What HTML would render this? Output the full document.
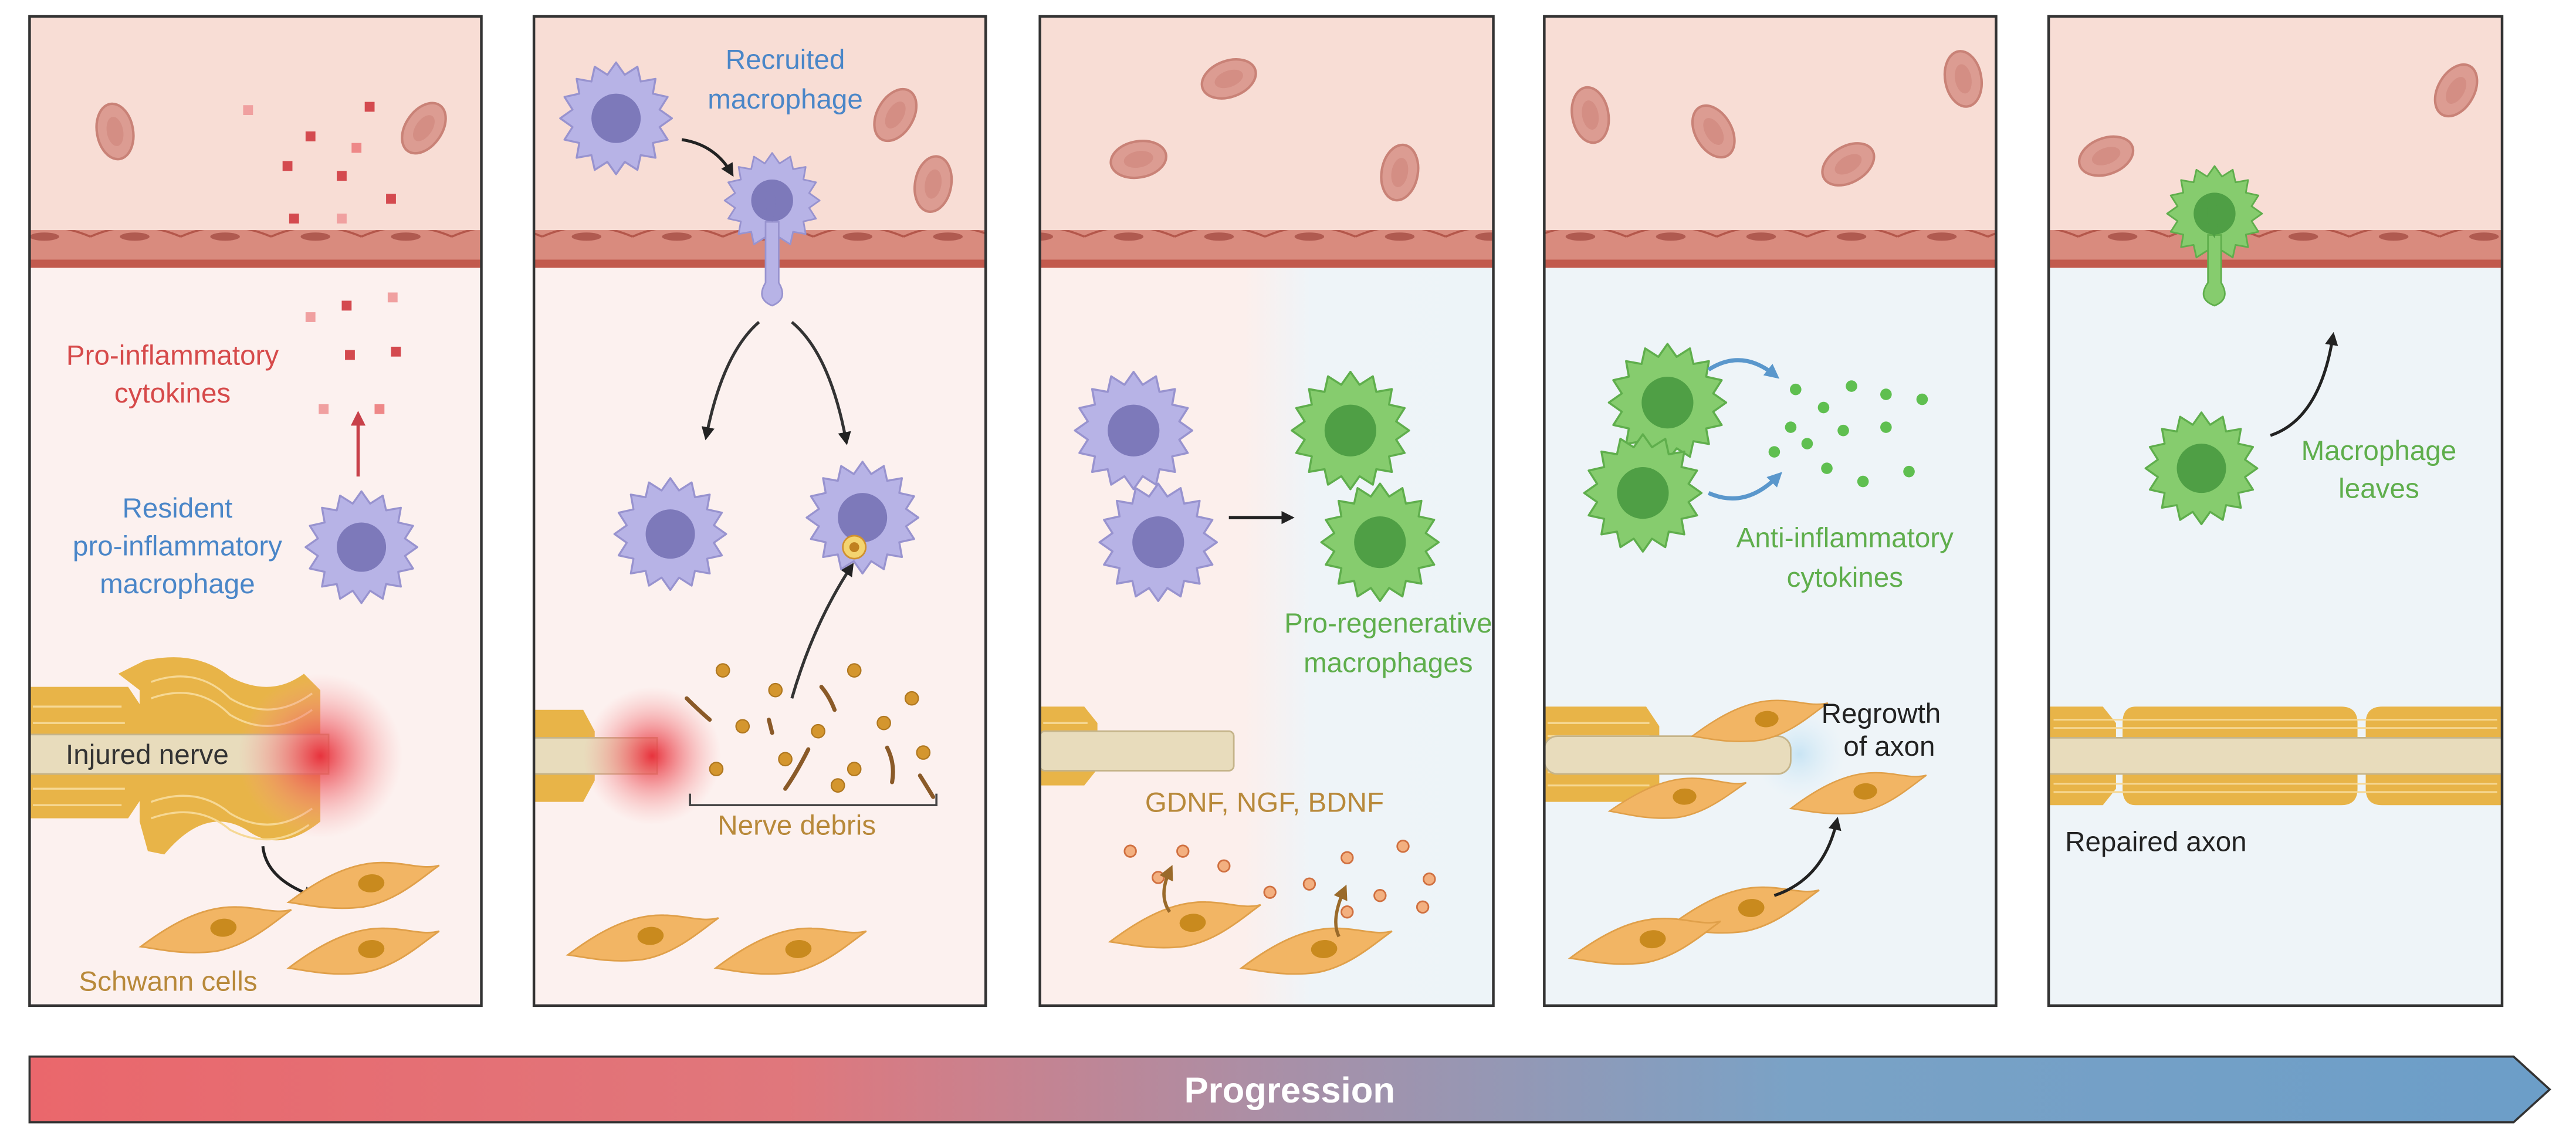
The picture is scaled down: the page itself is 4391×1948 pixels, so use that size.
<!DOCTYPE html>
<html><head><meta charset="utf-8"><style>
html,body{margin:0;padding:0;background:#fff}
svg{display:block}
text{font-family:"Liberation Sans",sans-serif}
</style></head><body>
<svg width="4391" height="1948" viewBox="0 0 1568 695.6" preserveAspectRatio="none" xmlns="http://www.w3.org/2000/svg">
<defs>
<symbol id="pm" overflow="visible"><polygon points="34,0 26.5,5.3 31.4,13 22.4,15 24,24 15,22.4 13,31.4 5.3,26.5 0,34 -5.3,26.5 -13,31.4 -15,22.4 -24,24 -22.4,15 -31.4,13 -26.5,5.3 -34,0 -26.5,-5.3 -31.4,-13 -22.4,-15 -24,-24 -15,-22.4 -13,-31.4 -5.3,-26.5 0,-34 5.3,-26.5 13,-31.4 15,-22.4 24,-24 22.4,-15 31.4,-13 26.5,-5.3" fill="#b7b3e6" stroke="#9893cf" stroke-width="1.2" stroke-linejoin="round"/><circle r="15" fill="#7d79ba"/></symbol>
<symbol id="gm" overflow="visible"><polygon points="34,0 26.5,5.3 31.4,13 22.4,15 24,24 15,22.4 13,31.4 5.3,26.5 0,34 -5.3,26.5 -13,31.4 -15,22.4 -24,24 -22.4,15 -31.4,13 -26.5,5.3 -34,0 -26.5,-5.3 -31.4,-13 -22.4,-15 -24,-24 -15,-22.4 -13,-31.4 -5.3,-26.5 0,-34 5.3,-26.5 13,-31.4 15,-22.4 24,-24 22.4,-15 31.4,-13 26.5,-5.3" fill="#86cc6e" stroke="#5fae4c" stroke-width="1.2" stroke-linejoin="round"/><circle r="15" fill="#4f9f45"/></symbol>
<symbol id="sc" overflow="visible"><path d="M-45,8 C-25,-5 -5,-14 15,-12 C28,-11 38,-6 48,-8 C35,0 20,12 0,14 C-20,15 -35,10 -45,8 Z" fill="#f2b564" stroke="#e0a04a" stroke-width="1"/><ellipse cx="6" cy="0" rx="8" ry="5.5" fill="#c98a1e"/></symbol>
<symbol id="rbc" overflow="visible"><ellipse rx="11" ry="17" fill="#dc9c92" stroke="#c98277" stroke-width="1.5"/><ellipse rx="5" ry="9" fill="#d48e84"/></symbol>
<radialGradient id="glow"><stop offset="0" stop-color="#e8323c" stop-opacity="1"/><stop offset="0.5" stop-color="#f06a70" stop-opacity="0.5"/><stop offset="1" stop-color="#f8a0a0" stop-opacity="0"/></radialGradient>
<radialGradient id="bglow"><stop offset="0" stop-color="#c8e4f4" stop-opacity="1"/><stop offset="1" stop-color="#e0f0f8" stop-opacity="0"/></radialGradient>
<linearGradient id="p3" x1="0" x2="1"><stop offset="0" stop-color="#fcefec"/><stop offset="0.45" stop-color="#fcefec"/><stop offset="0.6" stop-color="#eef4f8"/><stop offset="1" stop-color="#edf4f8"/></linearGradient>
<linearGradient id="bar" x1="0" x2="1"><stop offset="0" stop-color="#ea676c"/><stop offset="0.3" stop-color="#e0777c"/><stop offset="0.5" stop-color="#a890a8"/><stop offset="0.7" stop-color="#7aa2c6"/><stop offset="1" stop-color="#6c9ec8"/></linearGradient>
<pattern id="endo" width="55" height="22" patternUnits="userSpaceOnUse"><rect width="55" height="22" fill="#d98b7e"/><path d="M0,12 Q27,0 55,12" fill="none" stroke="#b4574b" stroke-width="1.3"/><ellipse cx="27" cy="12" rx="9" ry="2.5" fill="#b05a50"/></pattern>
<marker id="ah" markerWidth="8" markerHeight="8" refX="5" refY="4" orient="auto" markerUnits="userSpaceOnUse"><path d="M0,0 L8,4 L0,8 Z" fill="#222"/></marker>
<marker id="ahr" markerWidth="9" markerHeight="9" refX="5" refY="4.5" orient="auto" markerUnits="userSpaceOnUse"><path d="M0,0 L9,4.5 L0,9 Z" fill="#c8414a"/></marker>
<marker id="ahb" markerWidth="9" markerHeight="9" refX="5" refY="4.5" orient="auto" markerUnits="userSpaceOnUse"><path d="M0,0 L9,4.5 L0,9 Z" fill="#5a97cc"/></marker>
<marker id="aho" markerWidth="9" markerHeight="9" refX="5" refY="4.5" orient="auto" markerUnits="userSpaceOnUse"><path d="M0,0 L9,4.5 L0,9 Z" fill="#9a6a2a"/></marker>
</defs>

<g>
<rect x="18" y="10" width="275" height="602" fill="#fcf1ef"/>
<rect x="325" y="10" width="275" height="602" fill="#fcf1ef"/>
<rect x="633" y="10" width="276" height="602" fill="url(#p3)"/>
<rect x="940" y="10" width="275" height="602" fill="#eef4f8"/>
<rect x="1247" y="10" width="276" height="602" fill="#eef4f8"/>
</g>
<g fill="#f8ddd5">
<rect x="18" y="10" width="275" height="132"/><rect x="325" y="10" width="275" height="132"/><rect x="633" y="10" width="276" height="132"/><rect x="940" y="10" width="275" height="132"/><rect x="1247" y="10" width="276" height="132"/>
</g>
<g fill="url(#endo)">
<rect x="18" y="140" width="275" height="20"/><rect x="325" y="140" width="275" height="20"/><rect x="633" y="140" width="276" height="20"/><rect x="940" y="140" width="275" height="20"/><rect x="1247" y="140" width="276" height="20"/>
</g>
<g fill="#c25a4d">
<rect x="18" y="158" width="275" height="5"/><rect x="325" y="158" width="275" height="5"/><rect x="633" y="158" width="276" height="5"/><rect x="940" y="158" width="275" height="5"/><rect x="1247" y="158" width="276" height="5"/>
</g>

<use href="#rbc" transform="translate(70,80) rotate(-10)"/>
<use href="#rbc" transform="translate(258,78) rotate(35)"/>
<use href="#rbc" transform="translate(545,70) rotate(30)"/>
<use href="#rbc" transform="translate(568,112) rotate(10)"/>
<use href="#rbc" transform="translate(693,97) rotate(80)"/>
<use href="#rbc" transform="translate(748,48) rotate(70)"/>
<use href="#rbc" transform="translate(852,105) rotate(10)"/>
<use href="#rbc" transform="translate(968,70) rotate(-10)"/>
<use href="#rbc" transform="translate(1043,80) rotate(-30)"/>
<use href="#rbc" transform="translate(1125,100) rotate(60)"/>
<use href="#rbc" transform="translate(1195,48) rotate(-10)"/>
<use href="#rbc" transform="translate(1282,95) rotate(70)"/>
<use href="#rbc" transform="translate(1495,55) rotate(30)"/>

<!-- Panel 1 -->
<g fill="#d44a4f">
<rect x="148" y="64" width="6" height="6" fill="#f0a0a0"/><rect x="222" y="62" width="6" height="6"/><rect x="186" y="80" width="6" height="6"/><rect x="172" y="98" width="6" height="6"/><rect x="205" y="104" width="6" height="6"/><rect x="214" y="87" width="6" height="6" fill="#e88"/><rect x="235" y="118" width="6" height="6"/><rect x="176" y="130" width="6" height="6"/><rect x="205" y="130" width="6" height="6" fill="#f0a0a0"/>
<rect x="208" y="183" width="6" height="6"/><rect x="236" y="178" width="6" height="6" fill="#f0a0a0"/><rect x="186" y="190" width="6" height="6" fill="#f0a0a0"/><rect x="238" y="211" width="6" height="6"/><rect x="210" y="213" width="6" height="6"/><rect x="194" y="246" width="6" height="6" fill="#f0a0a0"/><rect x="228" y="246" width="6" height="6" fill="#e88"/>
</g>
<line x1="218" y1="290" x2="218" y2="254" stroke="#c8414a" stroke-width="2" marker-end="url(#ahr)"/>
<text x="105" y="222" font-size="17" fill="#d64a4a" text-anchor="middle">Pro-inflammatory</text>
<text x="105" y="245" font-size="17" fill="#d64a4a" text-anchor="middle">cytokines</text>
<text x="108" y="315" font-size="17" fill="#4a86c8" text-anchor="middle">Resident</text>
<text x="108" y="338" font-size="17" fill="#4a86c8" text-anchor="middle">pro-inflammatory</text>
<text x="108" y="361" font-size="17" fill="#4a86c8" text-anchor="middle">macrophage</text>
<use href="#pm" transform="translate(220,333)"/>
<path d="M18,418 L78,418 L86,430 L86,486 L78,498 L18,498 Z" fill="#e8b448"/>
<path d="M20,430 H74 M20,440 H76 M20,480 H76 M20,490 H74" stroke="#f6d894" stroke-width="1.2"/>
<path d="M72,410 L88,402 Q120,395 140,412 Q165,425 185,410 L195,420 L195,500 Q170,520 150,505 Q125,490 100,520 L90,518 L85,500 L85,420 Z" fill="#e8b448"/>
<path d="M92,415 Q120,405 140,425 Q165,440 190,422 M92,425 Q120,415 140,435 Q165,450 190,432 M92,488 Q120,478 140,495 Q165,510 190,492 M92,498 Q120,488 140,505 Q165,518 188,502" fill="none" stroke="#f6d894" stroke-width="1.2"/>
<rect x="18" y="447" width="182" height="24" fill="#e8dcbc" stroke="#c5b48a" stroke-width="1"/>
<circle cx="195" cy="460" r="50" fill="url(#glow)"/>
<text x="40" y="465" font-size="17" fill="#333">Injured nerve</text>
<path d="M160,515 Q162,535 190,545" fill="none" stroke="#222" stroke-width="1.8" marker-end="url(#ah)"/>
<use href="#sc" transform="translate(220,538) rotate(-4)"/>
<use href="#sc" transform="translate(130,565) rotate(-4)"/>
<use href="#sc" transform="translate(220,578) rotate(-4)"/>
<text x="48" y="603" font-size="17" fill="#b8893a">Schwann cells</text>

<!-- Panel 2 -->
<use href="#pm" transform="translate(375,72)"/>
<text x="478" y="42" font-size="17" fill="#4a86c8" text-anchor="middle">Recruited</text>
<text x="478" y="66" font-size="17" fill="#4a86c8" text-anchor="middle">macrophage</text>
<path d="M415,85 Q435,88 445,105" fill="none" stroke="#222" stroke-width="1.8" marker-end="url(#ah)"/>
<use href="#pm" transform="translate(470,122) scale(0.85)"/>
<path d="M466,135 L466,172 Q460,182 470,186 Q480,182 474,172 L474,135 Z" fill="#b7b3e6" stroke="#9893cf"/>
<path d="M468,112 Q475,120 470,135 Q463,125 468,112 Z" fill="#7d79ba"/>
<path d="M462,196 Q440,215 430,265" fill="none" stroke="#333" stroke-width="1.8" marker-end="url(#ah)"/>
<path d="M482,196 Q505,215 515,268" fill="none" stroke="#333" stroke-width="1.8" marker-end="url(#ah)"/>
<use href="#pm" transform="translate(408,325)"/>
<use href="#pm" transform="translate(525,315)"/>
<circle cx="520" cy="333" r="7" fill="#f4d470" stroke="#d09030"/><circle cx="520" cy="333" r="3" fill="#c08020"/>
<path d="M482,425 Q495,380 518,345" fill="none" stroke="#333" stroke-width="1.8" marker-end="url(#ah)"/>
<path d="M325,432 L355,432 L362,445 L362,475 L355,488 L325,488 Z" fill="#e8b448"/>
<rect x="325" y="449" width="75" height="22" fill="#e8dcbc" stroke="#c5b48a"/>
<circle cx="397" cy="460" r="42" fill="url(#glow)"/>
<g fill="#d4962e" stroke="#b07820" stroke-width="0.8">
<circle cx="440" cy="408" r="4"/><circle cx="472" cy="420" r="4"/><circle cx="520" cy="408" r="4"/><circle cx="555" cy="425" r="4"/><circle cx="452" cy="442" r="4"/><circle cx="498" cy="445" r="4"/><circle cx="538" cy="440" r="4"/><circle cx="436" cy="468" r="4"/><circle cx="478" cy="462" r="4"/><circle cx="520" cy="468" r="4"/><circle cx="562" cy="458" r="4"/><circle cx="510" cy="478" r="4"/>
</g>
<g fill="none" stroke="#8a5a28" stroke-width="2.5" stroke-linecap="round">
<path d="M418,425 Q425,432 432,438"/><path d="M492,456 Q485,470 478,480"/><path d="M540,455 Q545,465 543,476"/><path d="M560,472 Q565,480 568,485"/><path d="M500,418 Q505,424 508,432"/><path d="M468,438 L470,446"/>
</g>
<path d="M420,483 L420,490 L570,490 L570,483" fill="none" stroke="#444" stroke-width="1.3"/>
<text x="485" y="508" font-size="17" fill="#b8893a" text-anchor="middle">Nerve debris</text>
<use href="#sc" transform="translate(390,570) rotate(-4)"/>
<use href="#sc" transform="translate(480,578) rotate(-4)"/>

<!-- Panel 3 -->
<use href="#pm" transform="translate(690,262) scale(1.05)"/>
<use href="#pm" transform="translate(705,330) scale(1.05)"/>
<line x1="748" y1="315" x2="785" y2="315" stroke="#222" stroke-width="2" marker-end="url(#ah)"/>
<use href="#gm" transform="translate(822,262) scale(1.05)"/>
<use href="#gm" transform="translate(840,330) scale(1.05)"/>
<text x="845" y="385" font-size="17" fill="#5fae4c" text-anchor="middle">Pro-regenerative</text>
<text x="845" y="409" font-size="17" fill="#5fae4c" text-anchor="middle">macrophages</text>
<path d="M633,430 L660,430 L668,440 L668,468 L660,478 L633,478 Z" fill="#e8b448"/>
<path d="M635,440 H662 M635,468 H662" stroke="#f6d894" stroke-width="1.2"/>
<rect x="633" y="445" width="118" height="24" rx="3" fill="#e8dcbc" stroke="#c5b48a"/>
<text x="697" y="494" font-size="17" fill="#b8893a">GDNF, NGF, BDNF</text>
<g fill="#f3b080" stroke="#d07040" stroke-width="1">
<circle cx="688" cy="518" r="3.5"/><circle cx="720" cy="518" r="3.5"/><circle cx="705" cy="534" r="3.5"/><circle cx="745" cy="527" r="3.5"/><circle cx="773" cy="543" r="3.5"/><circle cx="797" cy="538" r="3.5"/><circle cx="820" cy="522" r="3.5"/><circle cx="840" cy="545" r="3.5"/><circle cx="854" cy="515" r="3.5"/><circle cx="870" cy="535" r="3.5"/><circle cx="866" cy="552" r="3.5"/><circle cx="820" cy="555" r="3.5"/>
</g>
<use href="#sc" transform="translate(720,562) rotate(-4)"/>
<use href="#sc" transform="translate(800,578) rotate(-4)"/>
<path d="M712,555 Q705,545 712,530" fill="none" stroke="#9a6a2a" stroke-width="2" marker-end="url(#aho)"/>
<path d="M815,570 Q810,560 818,542" fill="none" stroke="#9a6a2a" stroke-width="2" marker-end="url(#aho)"/>

<!-- Panel 4 -->
<use href="#gm" transform="translate(1015,245) scale(1.05)"/>
<use href="#gm" transform="translate(1000,300) scale(1.05)"/>
<path d="M1040,225 Q1060,212 1080,228" fill="none" stroke="#5a97cc" stroke-width="2.5" marker-end="url(#ahb)"/>
<path d="M1040,300 Q1062,310 1082,290" fill="none" stroke="#5a97cc" stroke-width="2.5" marker-end="url(#ahb)"/>
<g fill="#5fbf50">
<circle cx="1093" cy="237" r="3.5"/><circle cx="1110" cy="248" r="3.5"/><circle cx="1127" cy="235" r="3.5"/><circle cx="1148" cy="240" r="3.5"/><circle cx="1170" cy="243" r="3.5"/><circle cx="1100" cy="270" r="3.5"/><circle cx="1090" cy="260" r="3.5"/><circle cx="1122" cy="262" r="3.5"/><circle cx="1148" cy="260" r="3.5"/><circle cx="1080" cy="275" r="3.5"/><circle cx="1112" cy="285" r="3.5"/><circle cx="1134" cy="293" r="3.5"/><circle cx="1162" cy="287" r="3.5"/>
</g>
<text x="1123" y="333" font-size="17" fill="#5fae4c" text-anchor="middle">Anti-inflammatory</text>
<text x="1123" y="357" font-size="17" fill="#5fae4c" text-anchor="middle">cytokines</text>
<path d="M940,430 L1002,430 L1010,442 L1010,478 L1002,488 L940,488 Z" fill="#e8b448"/>
<path d="M942,440 H1004 M942,448 H1004 M942,470 H1004 M942,478 H1004" stroke="#f6d894" stroke-width="1.2"/>
<circle cx="1095" cy="459" r="28" fill="url(#bglow)"/>
<rect x="940" y="448" width="150" height="23" rx="8" fill="#e8dcbc" stroke="#c5b48a"/>
<use href="#sc" transform="translate(1070,438) rotate(-4) scale(0.9)"/>
<use href="#sc" transform="translate(1020,485) rotate(-2) scale(0.9)"/>
<use href="#sc" transform="translate(1130,482) rotate(-4) scale(0.9)"/>
<text x="1145" y="440" font-size="17" fill="#222" text-anchor="middle">Regrowth</text>
<text x="1150" y="460" font-size="17" fill="#222" text-anchor="middle">of axon</text>
<use href="#sc" transform="translate(1060,553) rotate(-4)"/>
<use href="#sc" transform="translate(1000,572) rotate(-4)"/>
<path d="M1080,545 Q1110,535 1118,500" fill="none" stroke="#222" stroke-width="1.8" marker-end="url(#ah)"/>

<!-- Panel 5 -->
<use href="#gm" transform="translate(1348,130) scale(0.85)"/>
<path d="M1344,143 L1344,172 Q1337,182 1348,186 Q1358,182 1352,172 L1352,143 Z" fill="#86cc6e" stroke="#5fae4c"/>
<path d="M1346,118 Q1353,128 1348,145 Q1340,132 1346,118 Z" fill="#4f9f45"/>
<use href="#gm" transform="translate(1340,285)"/>
<path d="M1382,265 Q1412,255 1420,205" fill="none" stroke="#222" stroke-width="1.8" marker-end="url(#ah)"/>
<text x="1448" y="280" font-size="17" fill="#5fae4c" text-anchor="middle">Macrophage</text>
<text x="1448" y="303" font-size="17" fill="#5fae4c" text-anchor="middle">leaves</text>
<g fill="#e8b448">
<path d="M1247,430 L1280,430 L1288,440 L1288,480 L1280,490 L1247,490 Z"/>
<path d="M1300,430 L1425,430 Q1435,430 1435,440 L1435,480 Q1435,490 1425,490 L1300,490 Q1292,490 1292,480 L1292,440 Q1292,430 1300,430 Z"/>
<path d="M1450,430 L1523,430 L1523,490 L1450,490 Q1440,490 1440,480 L1440,440 Q1440,430 1450,430 Z"/>
</g>
<path d="M1250,438 H1520 M1250,443 H1520 M1250,477 H1520 M1250,482 H1520" stroke="#f6d894" stroke-width="1"/>
<rect x="1247" y="449" width="276" height="22" fill="#e8dcbc" stroke="#c5b48a"/>
<text x="1257" y="518" font-size="17" fill="#222">Repaired axon</text>

<g fill="none" stroke="#333" stroke-width="1.6">
<rect x="18" y="10" width="275" height="602"/><rect x="325" y="10" width="275" height="602"/><rect x="633" y="10" width="276" height="602"/><rect x="940" y="10" width="275" height="602"/><rect x="1247" y="10" width="276" height="602"/>
</g>

<path d="M18,643 L1530,643 L1552,663 L1530,683 L18,683 Z" fill="url(#bar)" stroke="#333" stroke-width="1.3"/>
<text x="785" y="671" font-size="22" font-weight="bold" fill="#fff" text-anchor="middle">Progression</text>
</svg>
</body></html>
